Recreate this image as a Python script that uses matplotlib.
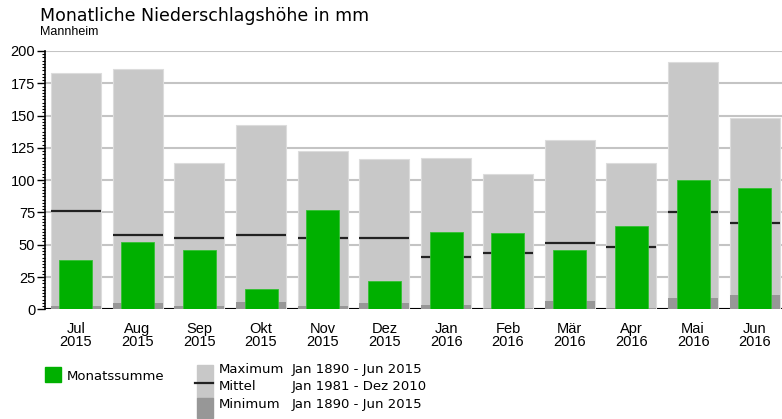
import numpy as np
import matplotlib
matplotlib.use("Agg")
import matplotlib.pyplot as plt
from matplotlib.ticker import MultipleLocator

plt.rcParams["font.family"] = ["Liberation Sans", "DejaVu Sans"]
WIDE = ["DejaVu Sans"]

# ------------------------------------------------------------------ #
#  Data (mm), Jul 2015 - Jun 2016, Mannheim
# ------------------------------------------------------------------ #
months = ["Jul", "Aug", "Sep", "Okt", "Nov", "Dez",
          "Jan", "Feb", "Mär", "Apr", "Mai", "Jun"]
years = ["2015"] * 6 + ["2016"] * 6
monatssumme = [38.5, 52.3, 45.6, 15.4, 76.8, 22.0,
               59.8, 59.0, 45.6, 64.4, 100.0, 94.3]
maximum = [182.8, 186.0, 113.4, 142.5, 122.4, 116.6,
           117.5, 105.0, 131.0, 113.0, 191.5, 148.0]
mittel = [76.3, 57.5, 55.2, 57.5, 55.2, 55.2,
          40.7, 43.3, 51.0, 48.5, 75.0, 67.0]
minimum = [2.3, 4.8, 2.3, 5.8, 2.3, 4.8,
           3.5, 1.3, 6.6, 1.3, 9.0, 11.4]

C_MAX = "#c8c8c8"
C_MIN = "#979797"
C_GREEN = "#00b000"

fig = plt.figure(figsize=(7.82, 4.19), dpi=100)
ax = fig.add_axes([45 / 782, (419 - 309.3) / 419, 1 - 45 / 782, (309.3 - 51) / 419])

x = np.arange(len(months))
ax.bar(x, maximum, width=0.81, color=C_MAX, edgecolor="#dcdcdc", linewidth=0.8, zorder=2)
ax.bar(x, minimum, width=0.81, color=C_MIN, linewidth=0, zorder=3)
ax.hlines(mittel, x - 0.405, x + 0.405, color="#222222", linewidth=1.6, zorder=4)
ax.bar(x, monatssumme, width=0.535, color=C_GREEN, edgecolor="#33c033", linewidth=0.6, zorder=5)

ax.axhline(0, color="black", linewidth=1.5, zorder=1)

ax.set_xlim(-0.5, 11.44)
ax.set_ylim(0, 200)
ax.set_xticks(x)
ax.set_xticklabels([f"{m}\n{y}" for m, y in zip(months, years)],
                   fontsize=10.5, linespacing=0.95)
ax.tick_params(axis="x", length=0, pad=9)

ax.yaxis.set_major_locator(MultipleLocator(25))
ax.yaxis.set_minor_locator(MultipleLocator(2.5))
ax.tick_params(axis="y", which="major", length=6, width=1, labelsize=10.5, pad=1)
ax.tick_params(axis="y", which="minor", length=2.5, width=0.8)
ax.grid(axis="y", color="#c4c4c4", linewidth=1.5, zorder=0)
ax.set_axisbelow(True)

for s in ["top", "right", "bottom"]:
    ax.spines[s].set_visible(False)
ax.spines["left"].set_linewidth(1.2)
ax.spines["left"].set_zorder(6)

# titles
fig.text(40 / 782, 1 - 16 / 419, "Monatliche Niederschlagshöhe in mm",
         fontsize=12.5, va="center", ha="left", family=WIDE)
fig.text(40 / 782, 1 - 32 / 419, "Mannheim", fontsize=9, va="center", ha="left")

# legend, drawn by hand in figure pixels
def px(xp, yp):
    return xp / 782, 1 - yp / 419

fig.patches.append(plt.Rectangle(px(45, 382), 16 / 782, 15 / 419,
                                 transform=fig.transFigure, color=C_GREEN))
fig.text(*px(67, 376), "Monatssumme", fontsize=9.5, va="center", family=WIDE)

fig.patches.append(plt.Rectangle(px(197, 398), 16 / 782, 33 / 419,
                                 transform=fig.transFigure, color=C_MAX))
fig.patches.append(plt.Rectangle(px(197, 418), 16 / 782, 20 / 419,
                                 transform=fig.transFigure, color=C_MIN))
fig.lines.append(plt.Line2D([195 / 782, 213 / 782], [1 - 383 / 419] * 2,
                            transform=fig.transFigure, color="#222222", linewidth=1.6))

legend_rows = [("Maximum", "Jan 1890 - Jun 2015", 369),
               ("Mittel", "Jan 1981 - Dez 2010", 386),
               ("Minimum", "Jan 1890 - Jun 2015", 404)]
for name, period, yp in legend_rows:
    fig.text(*px(219, yp), name, fontsize=9.5, va="center", family=WIDE)
    fig.text(*px(292, yp), period, fontsize=9.5, va="center", family=WIDE)

fig.savefig("out.png", dpi=100)
